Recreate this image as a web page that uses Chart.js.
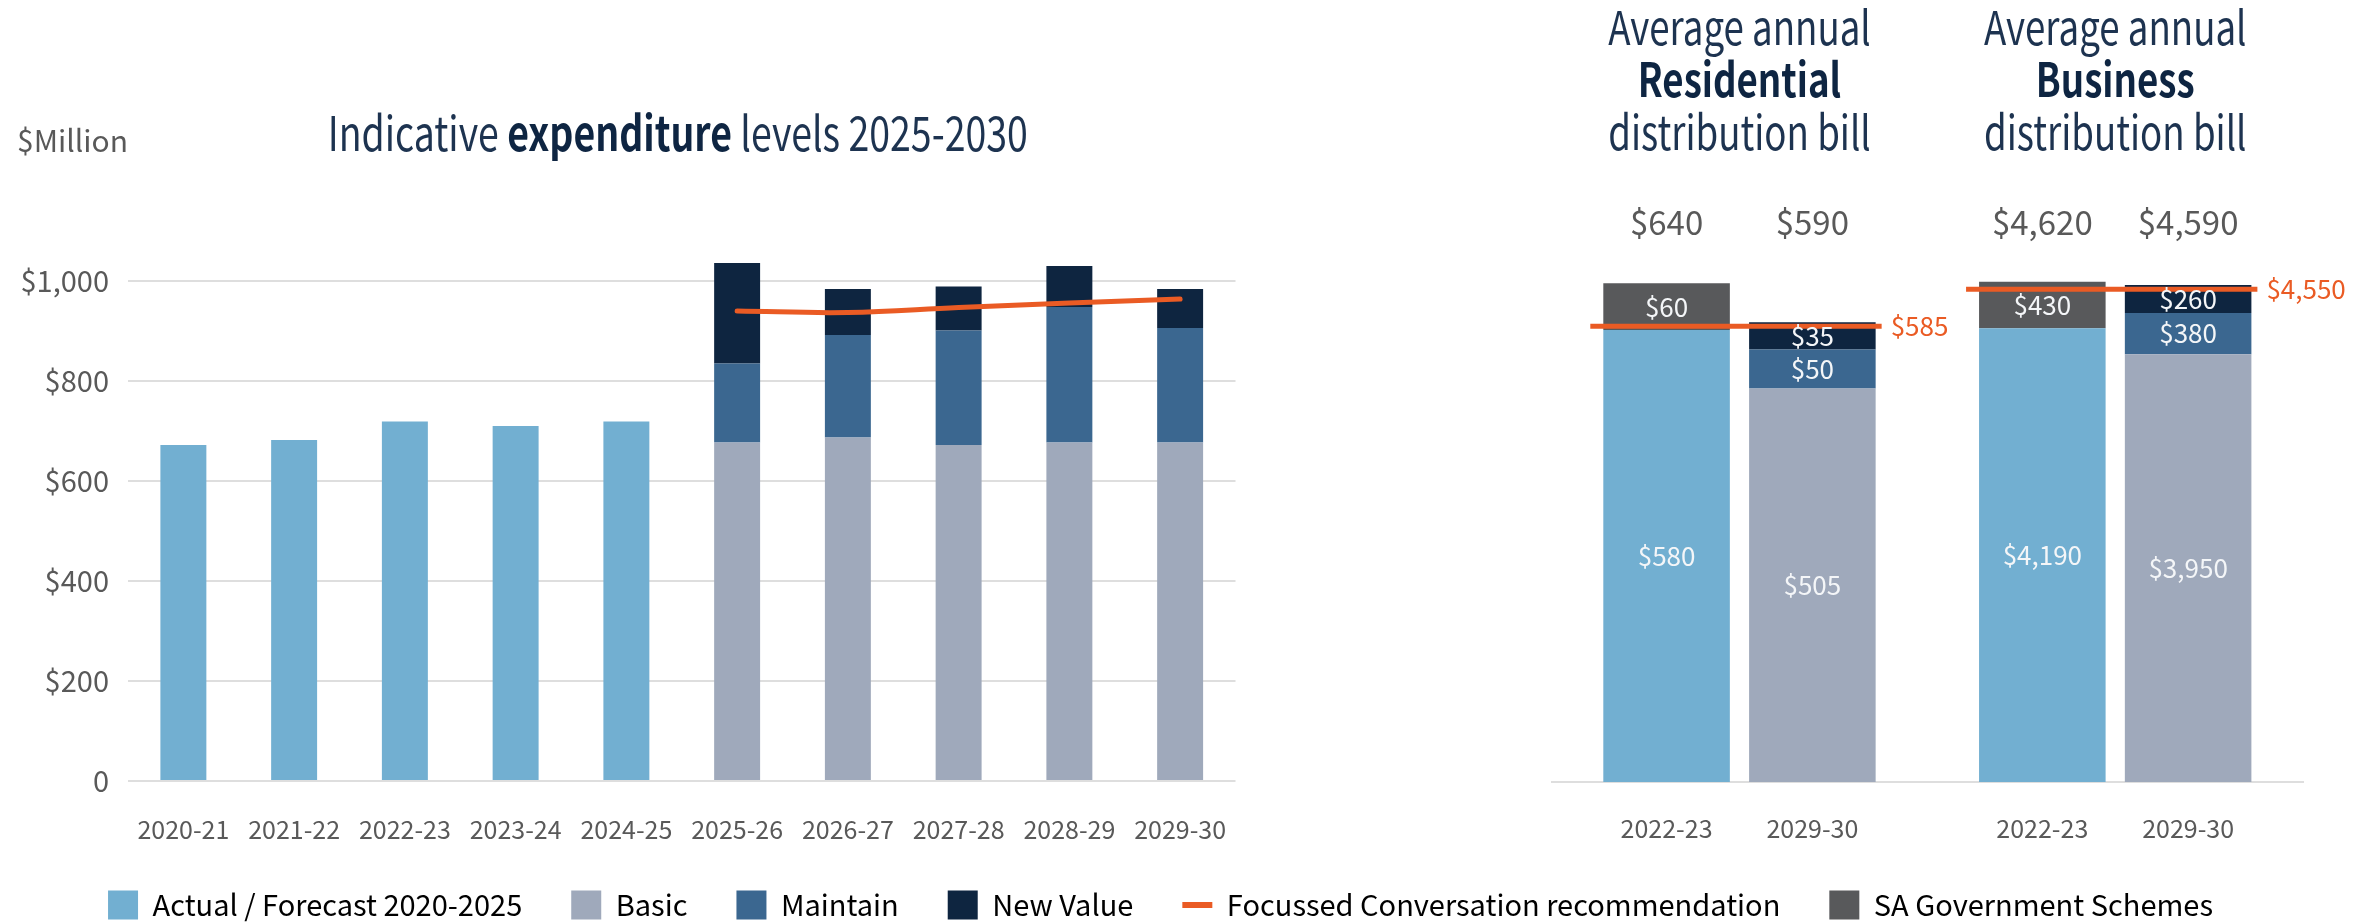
<!DOCTYPE html>
<html>
<head>
<meta charset="utf-8">
<title>Indicative expenditure levels 2025-2030</title>
<script src="https://cdn.jsdelivr.net/npm/chart.js@4.4.1/dist/chart.umd.min.js"></script>
<style>
  html, body { margin: 0; padding: 0; background: #fff; }
  #wrap { position: relative; width: 2369px; height: 923px; overflow: hidden; }
  #spend { position: absolute; left: 0; top: 0; }
  #bills { position: absolute; left: 1480px; top: 0; }
</style>
</head>
<body>
<div id="wrap">
  <canvas id="spend" width="2369" height="923"></canvas>
  <canvas id="bills" width="889" height="923"></canvas>
</div>
<script>
const FONT = '"Noto Sans CJK SC", "Noto Sans", sans-serif';
const GREY_TEXT = '#595959';
const NAVY = '#1d3350';
const NAVY_BOLD = '#0e2542';
const ORANGE = '#ea5b24';
const CONDENSE = 0.78;   // headings are set in a narrow face

// expenditure, $ million
const years = ['2020-21', '2021-22', '2022-23', '2023-24', '2024-25', '2025-26', '2026-27', '2027-28', '2028-29', '2029-30'];
const actualForecast = [672, 682, 719, 710, 719, null, null, null, null, null];
const basic = [null, null, null, null, null, 677, 687, 672, 677, 677];
const maintain = [null, null, null, null, null, 158, 205, 229, 271, 229];
const newValue = [null, null, null, null, null, 201, 92, 88, 82, 78];
const focussed = [null, null, null, null, null, 940, 937, 947, 956, 964];
const spendTicks = [0, 200, 400, 600, 800, 1000];

// average annual distribution bill, $
const billTypes = ['Residential', 'Business'];
const billYears = ['2022-23', '2029-30'];
const residentialThen = [580, 60];      // actual, SA Government Schemes
const residentialNext = [505, 50, 35];  // basic, maintain, new value
const businessThen = [4190, 430];
const businessNext = [3950, 380, 260];
const focussedBill = [585, 4550];

const seriesNames = ['Actual / Forecast 2020-2025', 'Basic', 'Maintain', 'New Value',
  'Focussed Conversation recommendation', 'SA Government Schemes'];
const seriesColors = ['#72afd1', '#9fa9bb', '#3b6790', '#0e2540', ORANGE, '#58595b'];

const money = v => '$' + v.toLocaleString('en-US');
const font = (size, weight) => (weight ? weight + ' ' : '') + size + 'px ' + FONT;

// text squeezed horizontally around its anchor point
function narrowText(ctx, text, x, y) {
  ctx.save();
  ctx.translate(x, y);
  ctx.scale(CONDENSE, 1);
  ctx.fillText(text, 0, 0);
  ctx.restore();
}

Chart.defaults.font.family = FONT;
Chart.defaults.color = GREY_TEXT;

// ---- left: expenditure chart ----
const spendBar = (i, data) => ({
  type: 'bar',
  label: seriesNames[i],
  data: data,
  backgroundColor: seriesColors[i],
  borderWidth: 0,
  order: 1,
  clip: false,
  barPercentage: 0.415,
  categoryPercentage: 1
});

const spendTitle = {
  id: 'spendTitle',
  afterDraw(chart) {
    const { ctx, chartArea } = chart;
    ctx.save();
    ctx.textBaseline = 'alphabetic';
    ctx.textAlign = 'left';
    ctx.fillStyle = GREY_TEXT;
    ctx.font = font(30);
    ctx.fillText('$Million', 17, 152);

    const parts = [['Indicative ', ''], ['expenditure', 'bold'], [' levels 2025-2030', '']];
    let total = 0;
    parts.forEach(p => { ctx.font = font(48, p[1]); total += ctx.measureText(p[0]).width * CONDENSE; });
    let x = (chartArea.left + chartArea.right) / 2 - 4 - total / 2;
    parts.forEach(p => {
      ctx.font = font(48, p[1]);
      ctx.fillStyle = p[1] ? NAVY_BOLD : NAVY;
      narrowText(ctx, p[0], x, 151);
      x += ctx.measureText(p[0]).width * CONDENSE;
    });
    ctx.restore();
  }
};

new Chart(document.getElementById('spend'), {
  data: {
    labels: years,
    datasets: [
      spendBar(0, actualForecast),
      spendBar(1, basic),
      spendBar(2, maintain),
      spendBar(3, newValue),
      {
        type: 'line',
        label: seriesNames[4],
        data: focussed,
        borderColor: ORANGE,
        borderWidth: 5,
        borderCapStyle: 'round',
        tension: 0.4,
        pointRadius: 0,
        order: 0,
        clip: false
      }
    ]
  },
  options: {
    responsive: false,
    animation: false,
    layout: { padding: { top: 281, right: 48, bottom: -6.5, left: 0 } },
    scales: {
      x: {
        stacked: true,
        grid: { display: false },
        border: { display: false },
        ticks: { font: { size: 25 }, padding: 25, maxRotation: 0, autoSkip: false },
        afterFit(s) { s.height = 60.5; }
      },
      y: {
        stacked: true,
        min: 0,
        max: 1000,
        grid: { color: '#dedede', lineWidth: 2, drawTicks: false },
        border: { display: false },
        ticks: { font: { size: 29 }, padding: 19, callback: v => v === 0 ? '0' : money(v) },
        afterBuildTicks(s) { s.ticks = spendTicks.map(v => ({ value: v })); },
        afterFit(s) { s.width = 128; }
      },
      // keeps the plot on the left while the legend spans the full width
      spacer: {
        type: 'linear',
        position: 'right',
        grid: { display: false },
        border: { display: false },
        ticks: { display: false },
        afterFit(s) { s.width = 1085.5; }
      }
    },
    plugins: {
      tooltip: { enabled: false },
      legend: {
        position: 'bottom',
        labels: {
          usePointStyle: true,
          pointStyleWidth: 30,
          boxHeight: 30,
          padding: 49,
          color: GREY_TEXT,
          font: { size: 29 },
          generateLabels() {
            return seriesNames.map((name, i) => ({
              text: name,
              fillStyle: seriesColors[i],
              strokeStyle: seriesColors[i],
              lineWidth: name.startsWith('Focussed') ? 6 : 0,
              pointStyle: name.startsWith('Focussed') ? 'line' : 'rect',
              hidden: false,
              datasetIndex: i
            }));
          }
        }
      }
    }
  },
  plugins: [spendTitle]
});

// ---- right: distribution bill chart ----
const billGroups = [
  { axis: 'yRes', then: residentialThen, next: residentialNext },
  { axis: 'yBus', then: businessThen, next: businessNext }
];
const thenSeries = [0, 5];
const nextSeries = [1, 2, 3];

const billDatasets = [];
billGroups.forEach((g, gi) => {
  const at = v => billTypes.map((_, i) => i === gi ? v : null);
  g.then.forEach((v, k) => billDatasets.push({
    label: seriesNames[thenSeries[k]], data: at(v), backgroundColor: seriesColors[thenSeries[k]],
    stack: billYears[0], yAxisID: g.axis
  }));
  g.next.forEach((v, k) => billDatasets.push({
    label: seriesNames[nextSeries[k]], data: at(v), backgroundColor: seriesColors[nextSeries[k]],
    stack: billYears[1], yAxisID: g.axis
  }));
});

const billLabels = {
  id: 'billLabels',
  afterDatasetsDraw(chart) {
    const { ctx, chartArea, scales } = chart;
    const metas = chart.getSortedVisibleDatasetMetas();
    ctx.save();

    billTypes.forEach((type, i) => {
      const cx = scales.x.getPixelForValue(i);

      // heading over each pair of bars
      ctx.textAlign = 'center';
      ctx.textBaseline = 'alphabetic';
      ctx.fillStyle = NAVY;
      ctx.font = font(47);
      narrowText(ctx, 'Average annual', cx, 45);
      ctx.fillStyle = NAVY_BOLD;
      ctx.font = font(47, 'bold');
      narrowText(ctx, type, cx, 97);
      ctx.fillStyle = NAVY;
      ctx.font = font(47);
      narrowText(ctx, 'distribution bill', cx, 150);

      // bars of this bill type, grouped by year
      let left = Infinity, right = -Infinity;
      billYears.forEach(year => {
        let sum = 0, x = null;
        metas.forEach(meta => {
          const ds = chart.data.datasets[meta.index];
          if (ds.stack !== year || ds.data[i] == null) return;
          const el = meta.data[i];
          sum += ds.data[i];
          x = el.x;
          left = Math.min(left, el.x - el.width / 2);
          right = Math.max(right, el.x + el.width / 2);
        });
        ctx.textAlign = 'center';
        ctx.fillStyle = GREY_TEXT;
        ctx.font = font(33);
        ctx.textBaseline = 'alphabetic';
        ctx.fillText(money(sum), x, chartArea.top + 53);
        ctx.font = font(25);
        ctx.textBaseline = 'middle';
        ctx.fillText(year, x, chartArea.bottom + 46);
      });

      // focussed conversation recommendation
      const y = scales[billGroups[i].axis].getPixelForValue(focussedBill[i]);
      ctx.strokeStyle = ORANGE;
      ctx.lineWidth = 5;
      ctx.beginPath();
      ctx.moveTo(left - 13, y);
      ctx.lineTo(right + 6, y);
      ctx.stroke();
      ctx.fillStyle = ORANGE;
      ctx.font = font(26);
      ctx.textAlign = 'left';
      ctx.textBaseline = 'middle';
      ctx.fillText(money(focussedBill[i]), right + 15, y);
    });

    // segment values
    ctx.fillStyle = '#f4f6f8';
    ctx.font = font(26);
    ctx.textAlign = 'center';
    ctx.textBaseline = 'middle';
    metas.forEach(meta => {
      const ds = chart.data.datasets[meta.index];
      meta.data.forEach((el, i) => {
        if (ds.data[i] == null) return;
        ctx.fillText(money(ds.data[i]), el.x, (el.y + el.base) / 2);
      });
    });
    ctx.restore();
  }
};

new Chart(document.getElementById('bills'), {
  type: 'bar',
  data: { labels: billTypes, datasets: billDatasets },
  options: {
    responsive: false,
    animation: false,
    layout: { padding: { left: 71.6, right: 65.9, top: 182, bottom: 141 } },
    datasets: { bar: { categoryPercentage: 0.776, barPercentage: 0.868, borderWidth: 0 } },
    scales: {
      x: {
        grid: { display: false, drawTicks: false },
        ticks: { display: false },
        border: { display: true, color: '#dedede', width: 2 },
        afterFit(s) { s.height = 0; }
      },
      yRes: { type: 'linear', position: 'left', stacked: true, display: false, min: 0, max: 770 },
      yBus: { type: 'linear', position: 'right', stacked: true, display: false, min: 0, max: 5540 }
    },
    plugins: {
      legend: { display: false },
      tooltip: { enabled: false }
    }
  },
  plugins: [billLabels]
});
</script>
</body>
</html>
